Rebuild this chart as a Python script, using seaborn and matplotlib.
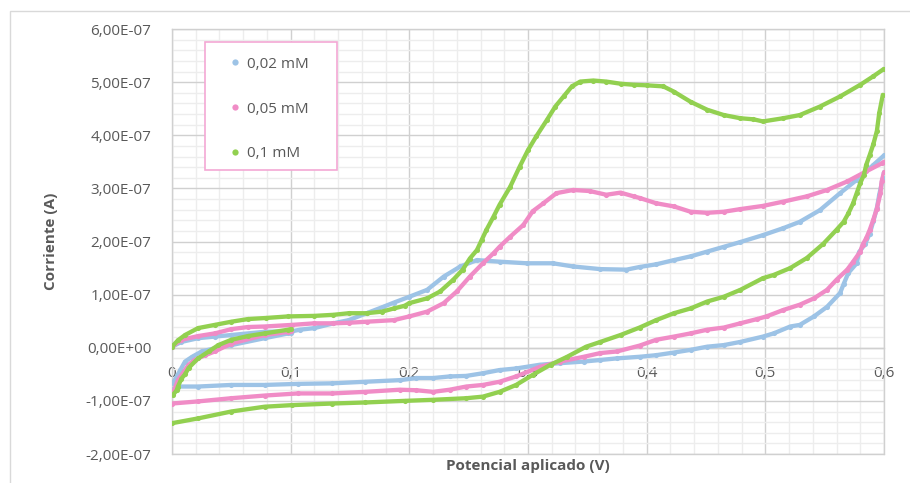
import matplotlib
matplotlib.use("Agg")
import matplotlib.pyplot as plt
import pandas as pd
import seaborn as sns
from matplotlib.lines import Line2D
from matplotlib.patches import Rectangle
from matplotlib.ticker import MultipleLocator, FuncFormatter

# Voltametría cíclica: corriente (en unidades de 1e-7 A) frente al potencial aplicado (V)
ESCALA = 1e-7

series = ["0,02 mM", "0,05 mM", "0,1 mM"]
colores = ["#9DC3E6", "#F08CC6", "#92D050"]

# ---- 0,02 mM ----
v_ida_002 = [0.000, 0.008, 0.022, 0.036, 0.050, 0.078, 0.101, 0.108, 0.120, 0.136, 0.149, 0.164,
             0.178, 0.187, 0.200, 0.215, 0.229, 0.243, 0.257, 0.276, 0.299, 0.321, 0.338, 0.361,
             0.383, 0.394, 0.408, 0.423, 0.437, 0.451, 0.465, 0.479, 0.498, 0.515, 0.529, 0.546,
             0.563, 0.577, 0.591, 0.600]
i_ida_002 = [0.02, 0.11, 0.18, 0.21, 0.24, 0.30, 0.31, 0.34, 0.37, 0.46, 0.52, 0.65,
             0.77, 0.85, 0.96, 1.09, 1.34, 1.53, 1.65, 1.62, 1.59, 1.59, 1.53, 1.48,
             1.47, 1.52, 1.57, 1.65, 1.72, 1.81, 1.90, 1.99, 2.12, 2.25, 2.37, 2.59,
             2.91, 3.16, 3.44, 3.62]
v_vuelta_002 = [0.600, 0.599, 0.596, 0.594, 0.591, 0.588, 0.584, 0.579, 0.577, 0.570, 0.566, 0.563,
                0.552, 0.541, 0.529, 0.521, 0.507, 0.498, 0.479, 0.465, 0.451, 0.437, 0.423, 0.408,
                0.394, 0.375, 0.361, 0.347, 0.327, 0.310, 0.290, 0.276, 0.262, 0.248, 0.234, 0.220,
                0.206, 0.192, 0.163, 0.135, 0.106, 0.078, 0.050, 0.022, 0.005, 0.000]
i_vuelta_002 = [3.30, 3.19, 2.88, 2.63, 2.38, 2.15, 1.95, 1.80, 1.59, 1.41, 1.20, 1.03,
                0.77, 0.59, 0.43, 0.40, 0.27, 0.21, 0.11, 0.05, 0.02, -0.04, -0.09, -0.14,
                -0.17, -0.20, -0.23, -0.26, -0.29, -0.32, -0.39, -0.42, -0.48, -0.53, -0.54, -0.57,
                -0.57, -0.61, -0.64, -0.67, -0.68, -0.70, -0.70, -0.73, -0.73, -0.79]
v_ciclo2_002 = [0.001, 0.003, 0.007, 0.011, 0.017, 0.025, 0.036, 0.050, 0.078, 0.098, 0.100]
i_ciclo2_002 = [-0.66, -0.58, -0.42, -0.26, -0.17, -0.07, -0.01, 0.05, 0.18, 0.27, 0.28]

# ---- 0,05 mM ----
v_ida_005 = [0.000, 0.008, 0.022, 0.036, 0.050, 0.064, 0.078, 0.101, 0.120, 0.136, 0.149, 0.164,
             0.187, 0.200, 0.215, 0.229, 0.240, 0.251, 0.262, 0.271, 0.276, 0.285, 0.296, 0.304,
             0.313, 0.324, 0.338, 0.352, 0.366, 0.378, 0.389, 0.394, 0.408, 0.423, 0.437, 0.451,
             0.465, 0.479, 0.498, 0.515, 0.535, 0.552, 0.569, 0.585, 0.598, 0.600]
i_ida_005 = [0.02, 0.15, 0.22, 0.27, 0.35, 0.39, 0.40, 0.43, 0.46, 0.46, 0.47, 0.49,
             0.52, 0.59, 0.68, 0.84, 1.06, 1.34, 1.59, 1.78, 1.90, 2.09, 2.31, 2.57,
             2.72, 2.91, 2.97, 2.95, 2.88, 2.92, 2.85, 2.82, 2.72, 2.66, 2.56, 2.54,
             2.56, 2.61, 2.67, 2.75, 2.85, 2.97, 3.13, 3.32, 3.47, 3.50]
v_vuelta_005 = [0.600, 0.598, 0.597, 0.594, 0.591, 0.588, 0.585, 0.582, 0.580, 0.574, 0.569, 0.560,
                0.552, 0.541, 0.529, 0.515, 0.501, 0.493, 0.479, 0.465, 0.451, 0.437, 0.423, 0.408,
                0.394, 0.375, 0.361, 0.347, 0.327, 0.310, 0.290, 0.276, 0.262, 0.248, 0.234, 0.220,
                0.206, 0.192, 0.163, 0.135, 0.106, 0.078, 0.050, 0.022, 0.000]
i_vuelta_005 = [3.30, 3.13, 2.91, 2.62, 2.41, 2.22, 2.06, 1.94, 1.81, 1.62, 1.47, 1.28,
                1.09, 0.93, 0.81, 0.71, 0.59, 0.54, 0.46, 0.38, 0.34, 0.27, 0.21, 0.15,
                0.04, -0.07, -0.10, -0.17, -0.26, -0.36, -0.54, -0.64, -0.70, -0.73, -0.79, -0.83,
                -0.80, -0.79, -0.83, -0.86, -0.86, -0.90, -0.95, -1.01, -1.05]
v_ciclo2_005 = [0.001, 0.003, 0.005, 0.010, 0.014, 0.019, 0.028, 0.036, 0.050, 0.078, 0.098, 0.100]
i_ciclo2_005 = [-0.85, -0.73, -0.61, -0.45, -0.32, -0.23, -0.14, -0.07, 0.08, 0.24, 0.30, 0.31]

# ---- 0,1 mM ----
v_ida_01 = [0.000, 0.005, 0.011, 0.022, 0.036, 0.050, 0.064, 0.079, 0.098, 0.120, 0.136, 0.149,
            0.164, 0.177, 0.187, 0.196, 0.200, 0.215, 0.226, 0.237, 0.245, 0.251, 0.257, 0.261,
            0.265, 0.271, 0.276, 0.285, 0.293, 0.300, 0.307, 0.316, 0.323, 0.330, 0.337, 0.344,
            0.355, 0.366, 0.378, 0.389, 0.400, 0.414, 0.423, 0.437, 0.451, 0.465, 0.479, 0.490,
            0.498, 0.515, 0.529, 0.546, 0.563, 0.580, 0.591, 0.600]
i_ida_01 = [0.02, 0.14, 0.24, 0.37, 0.43, 0.49, 0.54, 0.56, 0.59, 0.60, 0.62, 0.65,
            0.65, 0.68, 0.74, 0.79, 0.84, 0.93, 1.06, 1.28, 1.47, 1.68, 1.84, 2.03,
            2.22, 2.47, 2.69, 3.03, 3.41, 3.72, 3.98, 4.29, 4.54, 4.73, 4.92, 5.01,
            5.03, 5.01, 4.97, 4.95, 4.94, 4.92, 4.82, 4.63, 4.48, 4.38, 4.32, 4.30,
            4.26, 4.32, 4.38, 4.54, 4.73, 4.95, 5.11, 5.25]
v_vuelta_01 = [0.599, 0.596, 0.594, 0.591, 0.588, 0.585, 0.583, 0.580, 0.577, 0.574, 0.570, 0.566,
               0.560, 0.549, 0.535, 0.521, 0.507, 0.498, 0.479, 0.465, 0.451, 0.437, 0.423, 0.408,
               0.394, 0.378, 0.361, 0.349, 0.333, 0.319, 0.304, 0.290, 0.276, 0.262, 0.248, 0.220,
               0.196, 0.163, 0.135, 0.101, 0.078, 0.050, 0.022, 0.000]
i_vuelta_01 = [4.76, 4.42, 4.08, 3.83, 3.63, 3.44, 3.25, 3.10, 2.91, 2.72, 2.53, 2.37,
               2.22, 1.96, 1.69, 1.50, 1.37, 1.31, 1.09, 0.96, 0.87, 0.74, 0.65, 0.52,
               0.38, 0.24, 0.11, 0.02, -0.17, -0.32, -0.51, -0.70, -0.83, -0.92, -0.95, -0.98,
               -1.00, -1.03, -1.05, -1.08, -1.11, -1.20, -1.33, -1.42]
v_ciclo2_01 = [0.001, 0.004, 0.005, 0.008, 0.011, 0.014, 0.022, 0.031, 0.039, 0.050, 0.064, 0.078,
               0.098, 0.100]
i_ciclo2_01 = [-0.88, -0.80, -0.73, -0.58, -0.50, -0.38, -0.20, -0.07, 0.05, 0.15, 0.22, 0.27,
               0.34, 0.35]

tramos = {
    "0,02 mM": [(v_ida_002, i_ida_002), (v_vuelta_002, i_vuelta_002), (v_ciclo2_002, i_ciclo2_002)],
    "0,05 mM": [(v_ida_005, i_ida_005), (v_vuelta_005, i_vuelta_005), (v_ciclo2_005, i_ciclo2_005)],
    "0,1 mM": [(v_ida_01, i_ida_01), (v_vuelta_01, i_vuelta_01), (v_ciclo2_01, i_ciclo2_01)],
}

filas = []
for serie, partes in tramos.items():
    for k, (vs, cs) in enumerate(partes):
        for orden, (v, c) in enumerate(zip(vs, cs)):
            filas.append({"serie": serie, "tramo": k, "orden": orden,
                          "Potencial": v, "Corriente": c * ESCALA})
df = pd.DataFrame(filas)

x_ticks = [0.0, 0.1, 0.2, 0.3, 0.4, 0.5, 0.6]
y_ticks = [-2e-7, -1e-7, 0.0, 1e-7, 2e-7, 3e-7, 4e-7, 5e-7, 6e-7]

sns.set_theme(style="white")
plt.rcParams["font.family"] = ["Open Sans", "DejaVu Sans"]

TXT = "#595959"
GRID_MAJ = "#D0D0D0"
GRID_MIN = "#EDEDED"

fig = plt.figure(figsize=(9.10, 4.83), dpi=100)
ax = fig.add_axes([172 / 910, 1 - 454 / 483, 712 / 910, 425 / 483])

for serie, color in zip(series, colores):
    sub = df[df["serie"] == serie]
    sns.lineplot(data=sub, x="Potencial", y="Corriente", units="tramo", estimator=None,
                 sort=False, color=color, lw=3.1, marker="o", markersize=3.7,
                 markeredgewidth=0, legend=False, ax=ax, zorder=3)

ax.set_xlim(x_ticks[0], x_ticks[-1])
ax.set_ylim(y_ticks[0], y_ticks[-1])
ax.set_xticks(x_ticks)
ax.set_yticks(y_ticks)
ax.xaxis.set_minor_locator(MultipleLocator(0.02))
ax.yaxis.set_minor_locator(MultipleLocator(0.2e-7))
ax.xaxis.set_major_formatter(FuncFormatter(
    lambda v, p: "0" if abs(v) < 1e-9 else f"{v:.1f}".replace(".", ",")))
ax.yaxis.set_major_formatter(FuncFormatter(
    lambda v, p: f"{v:.2E}".replace(".", ",").replace("-0,00E", "0,00E")))

ax.grid(which="major", color=GRID_MAJ, lw=1.0, zorder=0)
ax.grid(which="minor", color=GRID_MIN, lw=1.0, zorder=0)
ax.set_axisbelow(True)

for s in ["left", "right", "top"]:
    ax.spines[s].set_color(GRID_MAJ)
    ax.spines[s].set_linewidth(1.0)
ax.spines["bottom"].set_position(("data", 0))
ax.spines["bottom"].set_color(GRID_MAJ)
ax.spines["bottom"].set_linewidth(1.0)
ax.axhline(y_ticks[0], color=GRID_MAJ, lw=1.0, clip_on=False, zorder=1)

ax.tick_params(axis="both", which="both", length=0, labelsize=11, labelcolor=TXT)
ax.tick_params(axis="x", pad=13)
ax.tick_params(axis="y", pad=15)

ax.set_xlabel("Potencial aplicado (V)", fontsize=11, fontweight="bold", color=TXT)
ax.set_ylabel("Corriente (A)", fontsize=11, fontweight="bold", color=TXT)
ax.xaxis.set_label_coords(0.5, -0.012)
ax.yaxis.set_label_coords(-0.16, 0.5)

# Leyenda con marco rosa
marco = Rectangle((205 / 910, 1 - 170 / 483), 132 / 910, 128 / 483, transform=fig.transFigure,
                  facecolor="white", edgecolor="#F3A8D4", lw=1.2, zorder=8)
ax.add_patch(marco)
handles = [Line2D([], [], ls="", marker="o", markersize=4.5, markeredgewidth=0, color=c)
           for c in colores]
leg = ax.legend(handles, series, loc="upper left", bbox_to_anchor=(230.6 / 910, 1 - 56.6 / 483),
                bbox_transform=fig.transFigure, frameon=False, fontsize=11, borderpad=0,
                borderaxespad=0, handlelength=0.6, handletextpad=0.45, labelspacing=1.96,
                labelcolor=TXT)
leg.set_zorder(10)

# Borde del área del gráfico
fig.add_artist(Rectangle((10 / 910, -0.05), 1.2, 1 - 11 / 483 + 0.05, transform=fig.transFigure,
                         fill=False, edgecolor="#D9D9D9", lw=1.0))

fig.savefig("out.png", dpi=100, facecolor="white")
